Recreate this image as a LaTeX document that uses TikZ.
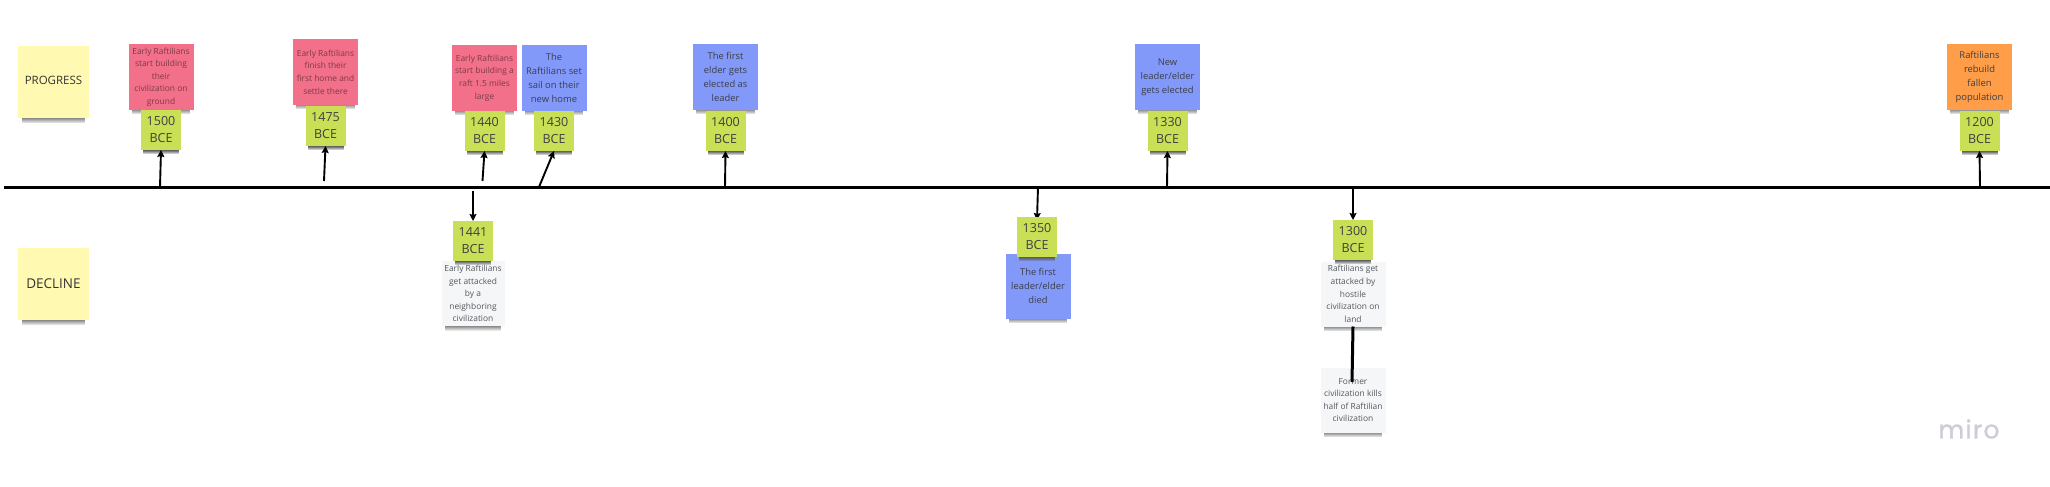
\documentclass[tikz,border=0pt]{standalone}
\usepackage{fontspec}
\setmainfont{Open Sans}
\newfontfamily\mirofont[LetterSpace=5,FakeBold=1.2]{Poppins}
\usetikzlibrary{arrows.meta,shadows,fadings,backgrounds}

\definecolor{notepink}{HTML}{F2708A}
\definecolor{noteblue}{HTML}{8399FA}
\definecolor{noteorange}{HTML}{FF9D48}
\definecolor{noteyellow}{HTML}{FFF9B1}
\definecolor{notewhite}{HTML}{F5F6F8}
\definecolor{notegreen}{HTML}{C9DF56}
\definecolor{inkpink}{HTML}{7E3A48}
\definecolor{inkdark}{HTML}{3A3F4A}
\definecolor{inkgrey}{HTML}{55585E}
\definecolor{miroink}{HTML}{CBCDD8}

\pgfdeclareverticalshading{noteshade}{100bp}{%
  color(0bp)=(pgftransparent!100); color(25bp)=(pgftransparent!100);
  color(31bp)=(pgftransparent!0); color(100bp)=(pgftransparent!0)}
\pgfdeclarefading{notefade}{\pgfuseshading{noteshade}}

\tikzset{
  noteshadow/.style={general shadow={fill=black!65, shadow scale=0.9, shadow yshift=#1, path fading=notefade}},
  sticky/.style={rectangle, inner sep=0pt, outer sep=0pt, align=center,
    minimum width=65pt, minimum height=65pt,
    font=\fontsize{8.4}{12.6}\selectfont},
  pinknote/.style={sticky, noteshadow=-9pt, fill=notepink, text=inkpink},
  bluenote/.style={sticky, noteshadow=-9pt, fill=noteblue, text=inkdark, font=\fontsize{9.4}{14.2}\selectfont},
  orangenote/.style={sticky, noteshadow=-9pt, fill=noteorange, text=inkdark, font=\fontsize{9.4}{14.2}\selectfont},
  whitenote/.style={sticky, noteshadow=-9pt, fill=notewhite, text=inkgrey},
  sidenote/.style={sticky, noteshadow=-10pt, fill=noteyellow, text=black!80, minimum width=71pt, minimum height=72pt,
    font=\fontsize{11.5}{14}\selectfont},
  datenote/.style={sticky, noteshadow=-7pt, fill=notegreen, text=black!75, minimum width=40pt, minimum height=40pt,
    font=\fontsize{12.5}{17}\selectfont},
  timeline/.style={line width=3pt},
  pointer/.style={-{Stealth[length=7pt,width=7pt,inset=1pt]}, line width=1.9pt},
}

\begin{document}
\begin{tikzpicture}[x=1pt,y=-1pt]
  \useasboundingbox (0,0) rectangle (2050,487);

  % Timeline
  \coordinate (lineL) at (4,187);
  \coordinate (lineR) at (2050,187);
  \draw[timeline] (lineL) -- (lineR);

  % Side labels
  \node[sidenote] (progress) at (53.5,82) {\raisebox{2.5pt}{PROGRESS}};
  \node[sidenote] (decline) at (53.5,284) {\raisebox{1.5pt}{\fontsize{13.5}{16}\selectfont DECLINE}};

  % Events above the line
  \node[pinknote] (n1500) at (161,77) {Early Raftilians\\start building\\their\\civilization on\\ground};
  \node[datenote] (d1500) at (161,130) {1500\\BCE};
  \node[pinknote] (n1475) at (325.5,72) {Early Raftilians\\finish their\\first home and\\settle there};
  \node[datenote] (d1475) at (325.5,126) {1475\\BCE};
  \node[pinknote] (n1440) at (484.5,78) {Early Raftilians\\start building a\\raft 1.5 miles\\large};
  \node[datenote] (d1440) at (484.5,131) {1440\\BCE};
  \node[bluenote] (n1430) at (554,78) {The\\Raftilians set\\sail on their\\new home};
  \node[datenote] (d1430) at (554,131) {1430\\BCE};
  \node[bluenote] (n1400) at (725.5,77) {The first\\elder gets\\elected as\\leader};
  \node[datenote] (d1400) at (725.5,131) {1400\\BCE};
  \node[bluenote] (n1330) at (1167.5,77) {New\\leader/elder\\gets elected};
  \node[datenote] (d1330) at (1167.5,131) {1330\\BCE};
  \node[orangenote] (n1200) at (1979.5,77) {Raftilians\\rebuild\\fallen\\population};
  \node[datenote] (d1200) at (1979.5,131) {1200\\BCE};

  % Events below the line
  \node[whitenote, minimum width=63pt] (n1441) at (473,293.5) {Early Raftilians\\get attacked\\by a\\neighboring\\civilization};
  \node[datenote] (d1441) at (473,241) {1441\\BCE};
  \node[bluenote] (n1350) at (1038,286) {The first\\leader/elder\\died};
  \node[datenote] (d1350) at (1037,237) {1350\\BCE};
  \node[whitenote] (n1300) at (1353,294) {Raftilians get\\attacked by\\hostile\\civilization on\\land};
  \node[datenote] (d1300) at (1353,240) {1300\\BCE};
  \node[whitenote] (nFormer) at (1353,400) {Former\\civilization kills\\half of Raftilian\\civilization};

  % Where the pointers leave the line
  \coordinate (t1500) at (160,187);
  \coordinate (t1475) at (324,181);
  \coordinate (t1440) at (482.5,181);
  \coordinate (t1430) at (539,187);
  \coordinate (t1400) at (725,187);
  \coordinate (t1330) at (1167,187);
  \coordinate (t1200) at (1980,187);
  \coordinate (t1441) at (473,191);
  \coordinate (t1350) at (1038,187);
  \coordinate (t1300) at (1353,189);
  \coordinate (formerEnd) at (1352,382);

  % Pointers
  \draw[pointer] (t1500) -- (d1500.south);
  \draw[pointer] (t1475) -- (d1475.south);
  \draw[pointer] (t1440) -- (d1440.south);
  \draw[pointer] (t1430) -- (d1430.south);
  \draw[pointer] (t1400) -- (d1400.south);
  \draw[pointer] (t1330) -- (d1330.south);
  \draw[pointer] (t1200) -- (d1200.south);
  \draw[pointer] (t1441) -- (d1441.north);
  \begin{pgfonlayer}{background}
    \draw[pointer] (t1350) -- ([yshift=-3pt]d1350.north);
  \end{pgfonlayer}
  \draw[pointer] (t1300) -- (d1300.north);
  \draw[line width=3pt] (n1300.south) -- (formerEnd);

  % Watermark
  \node[text=miroink, inner sep=0pt, font=\mirofont\fontsize{25}{25}\selectfont] (miro) at (1969,429) {miro};
\end{tikzpicture}
\end{document}
